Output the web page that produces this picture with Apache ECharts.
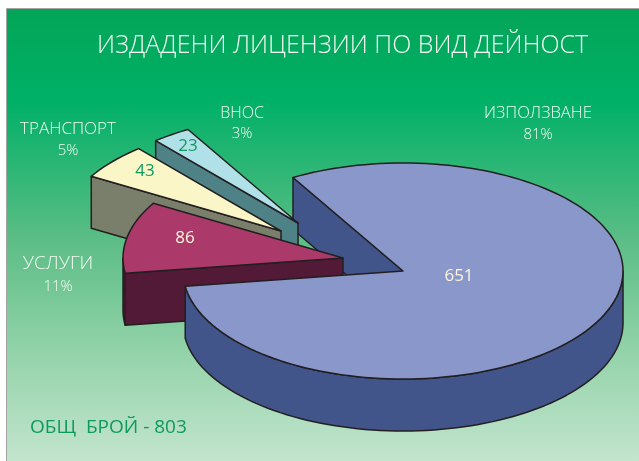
<!DOCTYPE html>
<html>
<head>
<meta charset="utf-8">
<style>
  html, body { margin: 0; padding: 0; background: #fff; }
  #chart { width: 639px; height: 461px; }
</style>
<script src="https://cdn.jsdelivr.net/npm/echarts@6/dist/echarts.min.js"></script>
</head>
<body>
<div id="chart"></div>
<script>
const categories = ['ИЗПОЛЗВАНЕ', 'УСЛУГИ', 'ТРАНСПОРТ', 'ВНОС']
const counts = [651, 86, 43, 23]
const shares = ['81%', '11%', '5%', '3%']
const titleText = 'ИЗДАДЕНИ ЛИЦЕНЗИИ ПО ВИД ДЕЙНОСТ'
const totalText = 'ОБЩ  БРОЙ - 803'

// pie geometry, the reference is a tilted 3D pie so it is drawn as an ellipse
const cx = 403
const cy = 271
const rx = 220
const ry = 108
const depth = 52
const startAngle = 240
const explode = [[0, 0], [-60, -13], [-122, -40], [-105, -48]]

const topColors = ['#8a97ca', '#ab3a6b', '#faf6c8', '#b0e0e8']
const wallColors = ['#42558a', '#521a36', '#7a7f6c', '#4f8287']
const valueColors = ['#fbf6dc', '#fbf6dc', '#0f9a5c', '#0f9a5c']
const lineColor = '#231f20'
const font = '"Open Sans", "Noto Sans", sans-serif'

// where the texts sit
const valuePos = [[459, 276], [185, 238], [145, 171], [188, 146]]
const captionPos = [[538, 113, 135], [58, 264, 287], [68, 129, 151], [242, 113, 134]]
const captionSize = [16.6, 19, 17, 16]

const total = counts.reduce((a, b) => a + b, 0)
const angles = []
let running = startAngle
counts.forEach((c) => {
  angles.push([running, running + (c / total) * 360])
  running += (c / total) * 360
})

function rimPoint(i, deg, drop) {
  const t = (deg * Math.PI) / 180
  return [
    cx + explode[i][0] + rx * Math.cos(t),
    cy + explode[i][1] + ry * Math.sin(t) + (drop || 0),
  ]
}

function apex(i, drop) {
  return [cx + explode[i][0], cy + explode[i][1] + (drop || 0)]
}

function arc(i, from, to, drop) {
  const pts = []
  const steps = Math.max(2, Math.ceil(Math.abs(to - from) / 2))
  for (let k = 0; k <= steps; k++) {
    pts.push(rimPoint(i, from + ((to - from) * k) / steps, drop))
  }
  return pts
}

function poly(points, fill) {
  return {
    type: 'polygon',
    shape: { points: points },
    style: { fill: fill, stroke: lineColor, lineWidth: 1.5, lineJoin: 'round' },
  }
}

function radialWall(i) {
  const a = angles[i][0]
  return poly(
    [apex(i), rimPoint(i, a), rimPoint(i, a, depth), apex(i, depth)],
    wallColors[i]
  )
}

// the part of the outer wall that faces the viewer: sin > 0
function rimWalls(i) {
  const out = []
  for (let turn = 0; turn <= 360; turn += 360) {
    const from = Math.max(angles[i][0], turn)
    const to = Math.min(angles[i][1], turn + 180)
    if (to > from) {
      out.push(
        poly(arc(i, from, to).concat(arc(i, to, from, depth)), wallColors[i])
      )
    }
  }
  return out
}

function topFace(i) {
  return poly([apex(i)].concat(arc(i, angles[i][0], angles[i][1])), topColors[i])
}

function valueLabel(i, value) {
  return {
    type: 'text',
    style: {
      x: valuePos[i][0],
      y: valuePos[i][1],
      text: String(value),
      fill: valueColors[i],
      font: '17px ' + font,
      align: 'center',
      verticalAlign: 'middle',
    },
  }
}

// back to front. the big slice is split: its cut wall goes behind the
// other slices, its top and outer wall in front of them
const drawOrder = [0, 3, 2, 1, 0]

function renderSlice(params, api) {
  const i = api.value(0)
  const value = api.value(1)
  let children
  if (params.dataIndex === 0) {
    children = [radialWall(i)]
  } else if (params.dataIndex === drawOrder.length - 1) {
    children = rimWalls(i).concat([topFace(i), valueLabel(i, value)])
  } else {
    children = [radialWall(i)].concat(rimWalls(i), [topFace(i), valueLabel(i, value)])
  }
  return { type: 'group', children: children }
}

const captions = []
categories.forEach((name, i) => {
  captions.push({
    type: 'text',
    z: 5,
    style: {
      x: captionPos[i][0],
      y: captionPos[i][1],
      text: name,
      fill: '#f4fbf4',
      font: '300 ' + captionSize[i] + 'px ' + font,
      align: 'center',
      verticalAlign: 'middle',
    },
  })
  captions.push({
    type: 'text',
    z: 5,
    style: {
      x: captionPos[i][0],
      y: captionPos[i][2],
      text: shares[i],
      fill: '#f4fbf4',
      font: '300 15px ' + font,
      align: 'center',
      verticalAlign: 'middle',
    },
  })
})

const chart = echarts.init(document.getElementById('chart'))
chart.setOption({
  animation: false,
  backgroundColor: '#fff',
  title: {
    text: titleText,
    left: 92,
    top: 28,
    textStyle: {
      color: '#f4fbf4',
      fontFamily: font,
      fontSize: 25,
      fontWeight: 300,
    },
    z: 6,
  },
  graphic: [
    {
      type: 'rect',
      z: -1,
      shape: { x: 6.5, y: 8.5, width: 640, height: 460 },
      style: {
        stroke: '#a3a3a3',
        lineWidth: 1,
        fill: {
          type: 'linear',
          x: 0,
          y: 0,
          x2: 0,
          y2: 1,
          colorStops: [
            { offset: 0, color: '#03a557' },
            { offset: 0.2, color: '#00b067' },
            { offset: 0.5, color: '#5bbd85' },
            { offset: 0.75, color: '#94d3aa' },
            { offset: 1, color: '#c6e6d0' },
          ],
        },
      },
    },
    {
      type: 'text',
      z: 5,
      style: {
        x: 30,
        y: 428,
        text: totalText,
        fill: '#0f9a5c',
        font: '19px ' + font,
        verticalAlign: 'middle',
      },
    },
  ].concat(captions),
  series: [
    {
      type: 'custom',
      coordinateSystem: 'none',
      renderItem: renderSlice,
      silent: true,
      data: drawOrder.map((i) => [i, counts[i]]),
    },
  ],
})
</script>
</body>
</html>
